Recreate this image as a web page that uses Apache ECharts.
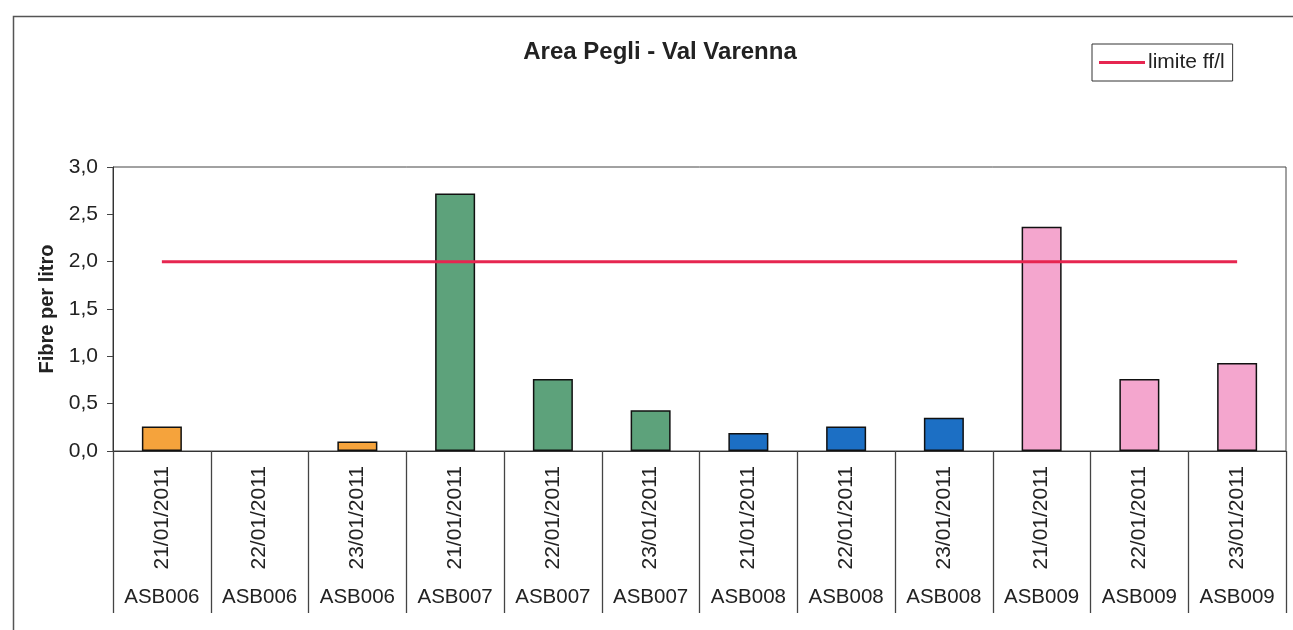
<!DOCTYPE html>
<html>
<head>
<meta charset="utf-8">
<script src="https://cdn.jsdelivr.net/npm/echarts@6/dist/echarts.min.js"></script>
<style>
html,body{margin:0;padding:0;background:#fff;}
#chart{width:1293px;height:630px;}
</style>
</head>
<body>
<div id="chart"></div>
<script>
const dates = ['21/01/2011','22/01/2011','23/01/2011','21/01/2011','22/01/2011','23/01/2011','21/01/2011','22/01/2011','23/01/2011','21/01/2011','22/01/2011','23/01/2011'];
const stations = ['ASB006','ASB006','ASB006','ASB007','ASB007','ASB007','ASB008','ASB008','ASB008','ASB009','ASB009','ASB009'];
const fibre = [0.26, 0, 0.10, 2.72, 0.76, 0.43, 0.19, 0.26, 0.35, 2.37, 0.76, 0.93];
const limite = [2, 2, 2, 2, 2, 2, 2, 2, 2, 2, 2, 2];
const stationColors = {ASB006:'#F5A33C', ASB007:'#5DA27B', ASB008:'#1C6FC4', ASB009:'#F4A6CE'};

const FONT = 'Liberation Sans, Arial, sans-serif';
const chart = echarts.init(document.getElementById('chart'));
chart.setOption({
  animation: false,
  backgroundColor: '#fff',
  textStyle: {fontFamily: FONT},
  title: {
    text: 'Area Pegli - Val Varenna',
    left: 655, top: 35, textAlign: 'center',
    textStyle: {fontFamily: FONT, fontSize: 24, fontWeight: 'bold', color: '#222'}
  },
  legend: {
    left: 1092, top: 44,
    data: [{name: 'limite ff/l', icon: 'rect'}],
    itemWidth: 46, itemHeight: 3, itemGap: 4,
    padding: [8, 8, 8, 7],
    borderColor: '#333', borderWidth: 1,
    textStyle: {fontFamily: FONT, fontSize: 21, color: '#222', padding: [0,0,0,-2]}
  },
  graphic: [{
    type: 'rect', left: 11, top: 14,
    shape: {width: 1400, height: 700},
    style: {fill: 'none', stroke: '#555', lineWidth: 1.5},
    silent: true, z: -1
  }],
  grid: {
    left: 113, right: 7, top: 167, bottom: 179,
    show: true, borderColor: '#444', borderWidth: 1
  },
  xAxis: [{
    type: 'category', data: dates, position: 'bottom',
    axisLine: {lineStyle: {color: '#333', width: 1}},
    axisTick: {show: true, length: 162, interval: 0, lineStyle: {color: '#444', width: 1.3}},
    axisLabel: {rotate: 90, interval: 0, margin: 15, fontFamily: FONT, fontSize: 21, color: '#222'}
  }, {
    type: 'category', data: stations, position: 'bottom', gridIndex: 0,
    axisLine: {show: false}, axisTick: {show: false},
    axisLabel: {interval: 0, margin: 136, fontFamily: FONT, fontSize: 20.5, color: '#222'}
  }],
  yAxis: {
    type: 'value', min: 0, max: 3, interval: 0.5,
    name: 'Fibre per litro', nameLocation: 'middle', nameGap: 56, nameRotate: 90,
    nameTextStyle: {fontFamily: FONT, fontSize: 20, fontWeight: 'bold', color: '#222'},
    axisLine: {show: true, lineStyle: {color: '#333', width: 1}},
    axisTick: {show: true, length: 6, lineStyle: {color: '#444'}},
    splitLine: {show: false},
    axisLabel: {margin: 15, fontFamily: FONT, fontSize: 21, color: '#222',
      formatter: v => v.toFixed(1).replace('.', ',')}
  },
  series: [{
    type: 'bar', name: 'fibre', xAxisIndex: 0,
    barWidth: 40,
    data: fibre.map((v, i) => ({value: v, itemStyle: {color: stationColors[stations[i]], borderWidth: v === 0 ? 0 : 1.5}})),
    itemStyle: {borderColor: '#111', borderWidth: 1.5}
  }, {
    type: 'line', name: 'limite ff/l', xAxisIndex: 0,
    data: limite, symbol: 'none',
    lineStyle: {color: '#E62650', width: 3}, itemStyle: {color: '#E62650'}, z: 5
  }]
});
</script>
</body>
</html>
